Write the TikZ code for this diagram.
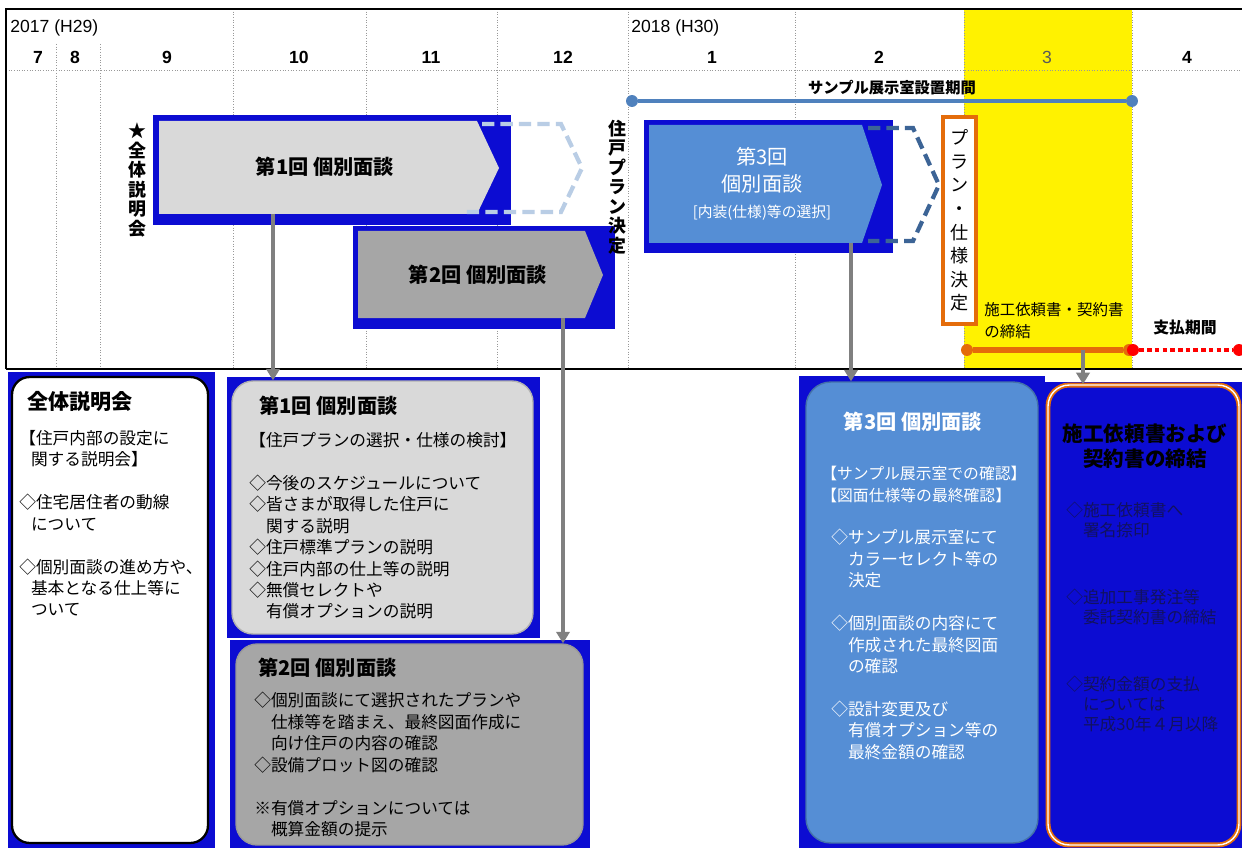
\documentclass[tikz,border=0pt]{standalone}
\usepackage{fontspec}
\setmainfont{Noto Sans CJK JP}
\newfontfamily\numfont{Liberation Sans}
\usepackage{tikz}
\usetikzlibrary{positioning,calc,arrows.meta}
\definecolor{deepblue}{RGB}{12,12,210}
\definecolor{panelgray}{RGB}{217,217,217}
\definecolor{midgray}{RGB}{166,166,166}
\definecolor{chevblue}{RGB}{85,142,213}
\definecolor{dashpale}{RGB}{185,205,229}
\definecolor{dashdeep}{RGB}{60,100,150}
\definecolor{periodblue}{RGB}{79,129,189}
\definecolor{planorange}{RGB}{228,108,10}
\definecolor{arrowgray}{RGB}{128,128,128}
\definecolor{navytext}{RGB}{18,18,95}
\newcommand{\jind}{\hspace*{1em}}

\begin{document}
\begin{tikzpicture}[x=0.02cm,y=-0.02cm,
	gridline/.style={gray!80,densely dotted,line width=0.5pt},
	month/.style={font=\numfont\bfseries\fontsize{10}{12}\selectfont},
	year/.style={anchor=west,inner sep=0pt,font=\numfont\fontsize{10}{12}\selectfont},
	chev/.style={font=\bfseries\fontsize{11.5}{14}\selectfont},
	vert/.style={align=center,inner sep=0pt,font=\bfseries\fontsize{10.2}{11.1}\selectfont},
	enddot/.style={circle,inner sep=0pt,minimum size=6.8pt,fill=#1},
	period/.style={line width=#1},
	panel/.style={rounded corners=10pt,line width=0.8pt},
	ptitle/.style={anchor=west,inner sep=0pt,font=\bfseries\fontsize{11.5}{14}\selectfont},
	ptext/.style={anchor=north west,align=left,inner sep=0pt,font=\fontsize{9.5}{12.2}\selectfont},
	connector/.style={arrowgray,line width=2.6pt,-{Triangle[width=7.5pt,length=6.5pt]}}]
	\useasboundingbox (0,0) rectangle (1242,848);
	\fill[white] (0,0) rectangle (1242,848);
	\fill[yellow] (964,9) rectangle (1132,369);
	%
	\foreach \x in {233,366,497,628,795,964,1132}
		\draw[gridline] (\x,9) -- (\x,369);
	\foreach \x in {56,100}
		\draw[gridline] (\x,44) -- (\x,369);
	\draw[gridline] (6,70) -- (1242,70);
	\draw[line width=0.8pt] (6,369) -- (6,9) -- (1242,9);
	\draw[line width=1.4pt] (6,369) -- (1242,369);
	%
	\node[year] (y17) at (10,28) {2017 (H29)};
	\node[year] (y18) at (631,28) {2018 (H30)};
	\foreach \m/\x in {7/38,8/75,9/167,10/299,11/431,12/563,1/712,2/879,4/1187}
		\node[month] (m\m) at (\x,57) {\m};
	\node[month,font=\numfont\fontsize{10}{12}\selectfont,text=black!65] (m3) at (1047,57) {3};
	%
	\node[enddot=periodblue] (s0) at (632,101) {};
	\node[enddot=periodblue] (s1) at (1132,101) {};
	\draw[periodblue,period=2.4pt] (s0) -- (s1);
	\node[font=\bfseries\fontsize{8.7}{10}\selectfont] (sample) at (892,88) {サンプル展示室設置期間};
	%
	\fill[deepblue] (153,115) rectangle (511,225);
	\fill[panelgray] (159,121) -- (477,121) -- (499,168) -- (477,214) -- (159,214) -- cycle;
	\draw[dashpale,line width=2.4pt,dash pattern=on 7pt off 3.5pt] (482,124) -- (561,124) -- (582,168) -- (561,212) -- (466,212);
	\node[chev] (c1) at (325,167) {第1回\ 個別面談};
	%
	\fill[deepblue] (353,226) rectangle (615,329);
	\fill[midgray] (358,231) -- (585,231) -- (603,275) -- (585,318) -- (358,318) -- cycle;
	\node[chev] (c2) at (478,275) {第2回\ 個別面談};
	%
	\fill[deepblue] (644,120) rectangle (893,253);
	\fill[chevblue] (649,125) -- (862,125) -- (882,185) -- (862,243) -- (649,243) -- cycle;
	\draw[dashdeep,line width=2.4pt,dash pattern=on 7pt off 3.5pt] (868,128) -- (913,128) -- (939,185) -- (913,241) -- (868,241);
	\node[align=center,text=white,font=\fontsize{11.5}{15}\selectfont] (c3) at (762,184)
		{第3回\\個別面談\\{\fontsize{8.4}{14}\selectfont [内装(仕様)等の選択]}};
	%
	\node[vert] (zenkai) at (137,180) {★\\全\\体\\説\\明\\会};
	\node[vert] (kettei) at (617,187) {住\\戸\\プ\\ラ\\ン\\決\\定};
	\node[draw=planorange,line width=1.8pt,fill=white,minimum width=0.66cm,minimum height=4.14cm,
		inner sep=0pt,align=center,font=\fontsize{10.3}{13.4}\selectfont] (plan) at (959.5,220.5)
		{プ\\ラ\\ン\\・\\仕\\様\\決\\定};
	%
	\node[anchor=north west,align=left,inner sep=0pt,font=\fontsize{8.8}{12.5}\selectfont] (sekou) at (984,302)
		{施工依頼書・契約書\\の締結};
	\node[font=\bfseries\fontsize{9}{11}\selectfont] (shiharai) at (1185,328) {支払期間};
	\node[enddot=planorange] (o0) at (967,350) {};
	\node[enddot=planorange] (o1) at (1129,350) {};
	\draw[planorange,period=3pt] (o0) -- (o1);
	\node[enddot=red] (r0) at (1133,350) {};
	\node[enddot=red] (r1) at (1239,350) {};
	\draw[red,period=2.6pt,dash pattern=on 2.6pt off 1.8pt] (r0) -- (r1);
	%
	\fill[deepblue] (8,372) rectangle (215,848);
	\node[panel,draw=black,line width=1.3pt,fill=white,minimum width=3.92cm,minimum height=9.32cm] (bA) at (110,610) {};
	\node[ptitle,font=\bfseries\fontsize{12}{14}\selectfont] (tA) at (27,402) {全体説明会};
	\node[ptext] (xA) at (19,430) {【住戸内部の設定に\\\hspace*{0.7em}関する説明会】\\~\\
		◇住宅居住者の動線\\\hspace*{0.7em}について\\~\\
		◇個別面談の進め方や、\\\hspace*{0.7em}基本となる仕上等に\\\hspace*{0.7em}ついて};
	%
	\fill[deepblue] (227,377) rectangle (540,638);
	\node[panel,draw=gray!60,fill=panelgray,rounded corners=12pt,minimum width=6.02cm,minimum height=5.06cm] (bB) at (382.5,507.5) {};
	\node[ptitle] (tB) at (259,406) {第1回\ 個別面談};
	\node[ptext] (xB) at (249,432) {【住戸プランの選択・仕様の検討】\\~\\
		◇今後のスケジュールについて\\◇皆さまが取得した住戸に\\\jind 関する説明\\
		◇住戸標準プランの説明\\◇住戸内部の仕上等の説明\\◇無償セレクトや\\\jind 有償オプションの説明};
	%
	\fill[deepblue] (230,640) rectangle (590,848);
	\node[panel,draw=gray!80,fill=midgray,rounded corners=12pt,minimum width=6.94cm,minimum height=4.02cm] (bC) at (409.5,744.5) {};
	\node[ptitle] (tC) at (258,668) {第2回\ 個別面談};
	\node[ptext] (xC) at (254,692) {◇個別面談にて選択されたプランや\\\jind 仕様等を踏まえ、最終図面作成に\\
		\jind 向け住戸の内容の確認\\◇設備プロット図の確認\\~\\
		※有償オプションについては\\\jind 概算金額の提示};
	%
	\fill[deepblue] (799,376) rectangle (1045,848);
	\node[panel,draw=chevblue!80!black,fill=chevblue,rounded corners=14pt,minimum width=4.64cm,minimum height=9.22cm] (bD) at (922,612.5) {};
	\node[ptitle,anchor=center,text=white] (tD) at (913,422) {第3回\ 個別面談};
	\node[ptext,text=white,font=\fontsize{9}{12.4}\selectfont] (xD1) at (821,466) {【サンプル展示室での確認】\\【図面仕様等の最終確認】};
	\node[ptext,text=white] (xD2) at (831,529) {◇サンプル展示室にて\\\jind カラーセレクト等の\\\jind 決定\\~\\
		◇個別面談の内容にて\\\jind 作成された最終図面\\\jind の確認\\~\\
		◇設計変更及び\\\jind 有償オプション等の\\\jind 最終金額の確認};
	%
	\fill[deepblue] (1045,382) rectangle (1242,848);
	\node[panel,draw=planorange,double=white,double distance=0.8pt,line width=1pt,fill=deepblue,rounded corners=12pt,
		minimum width=3.82cm,minimum height=9.2cm] (bE) at (1143.5,615) {};
	\node[align=center,inner sep=0pt,font=\bfseries\fontsize{11.7}{14.2}\selectfont] (tE) at (1145,446) {施工依頼書および\\契約書の締結};
	\node[ptext,text=navytext,font=\fontsize{9.5}{11.4}\selectfont] (xE) at (1066,502) {◇施工依頼書へ\\\jind 署名捺印\\[26.7pt]
		◇追加工事発注等\\\jind 委託契約書の締結\\[26.7pt]
		◇契約金額の支払\\\jind については\\\jind 平成30年４月以降};
	%
	\coordinate (a1) at (273,214);
	\coordinate (a2) at (563,318);
	\coordinate (a3) at (851,243);
	\coordinate (a4) at (1083,350);
	\path[connector]
		(a1) edge (a1 |- bB.north)
		(a2) edge (a2 |- bC.north)
		(a3) edge (a3 |- bD.north)
		(a4) edge (a4 |- bE.north);
\end{tikzpicture}
\end{document}
